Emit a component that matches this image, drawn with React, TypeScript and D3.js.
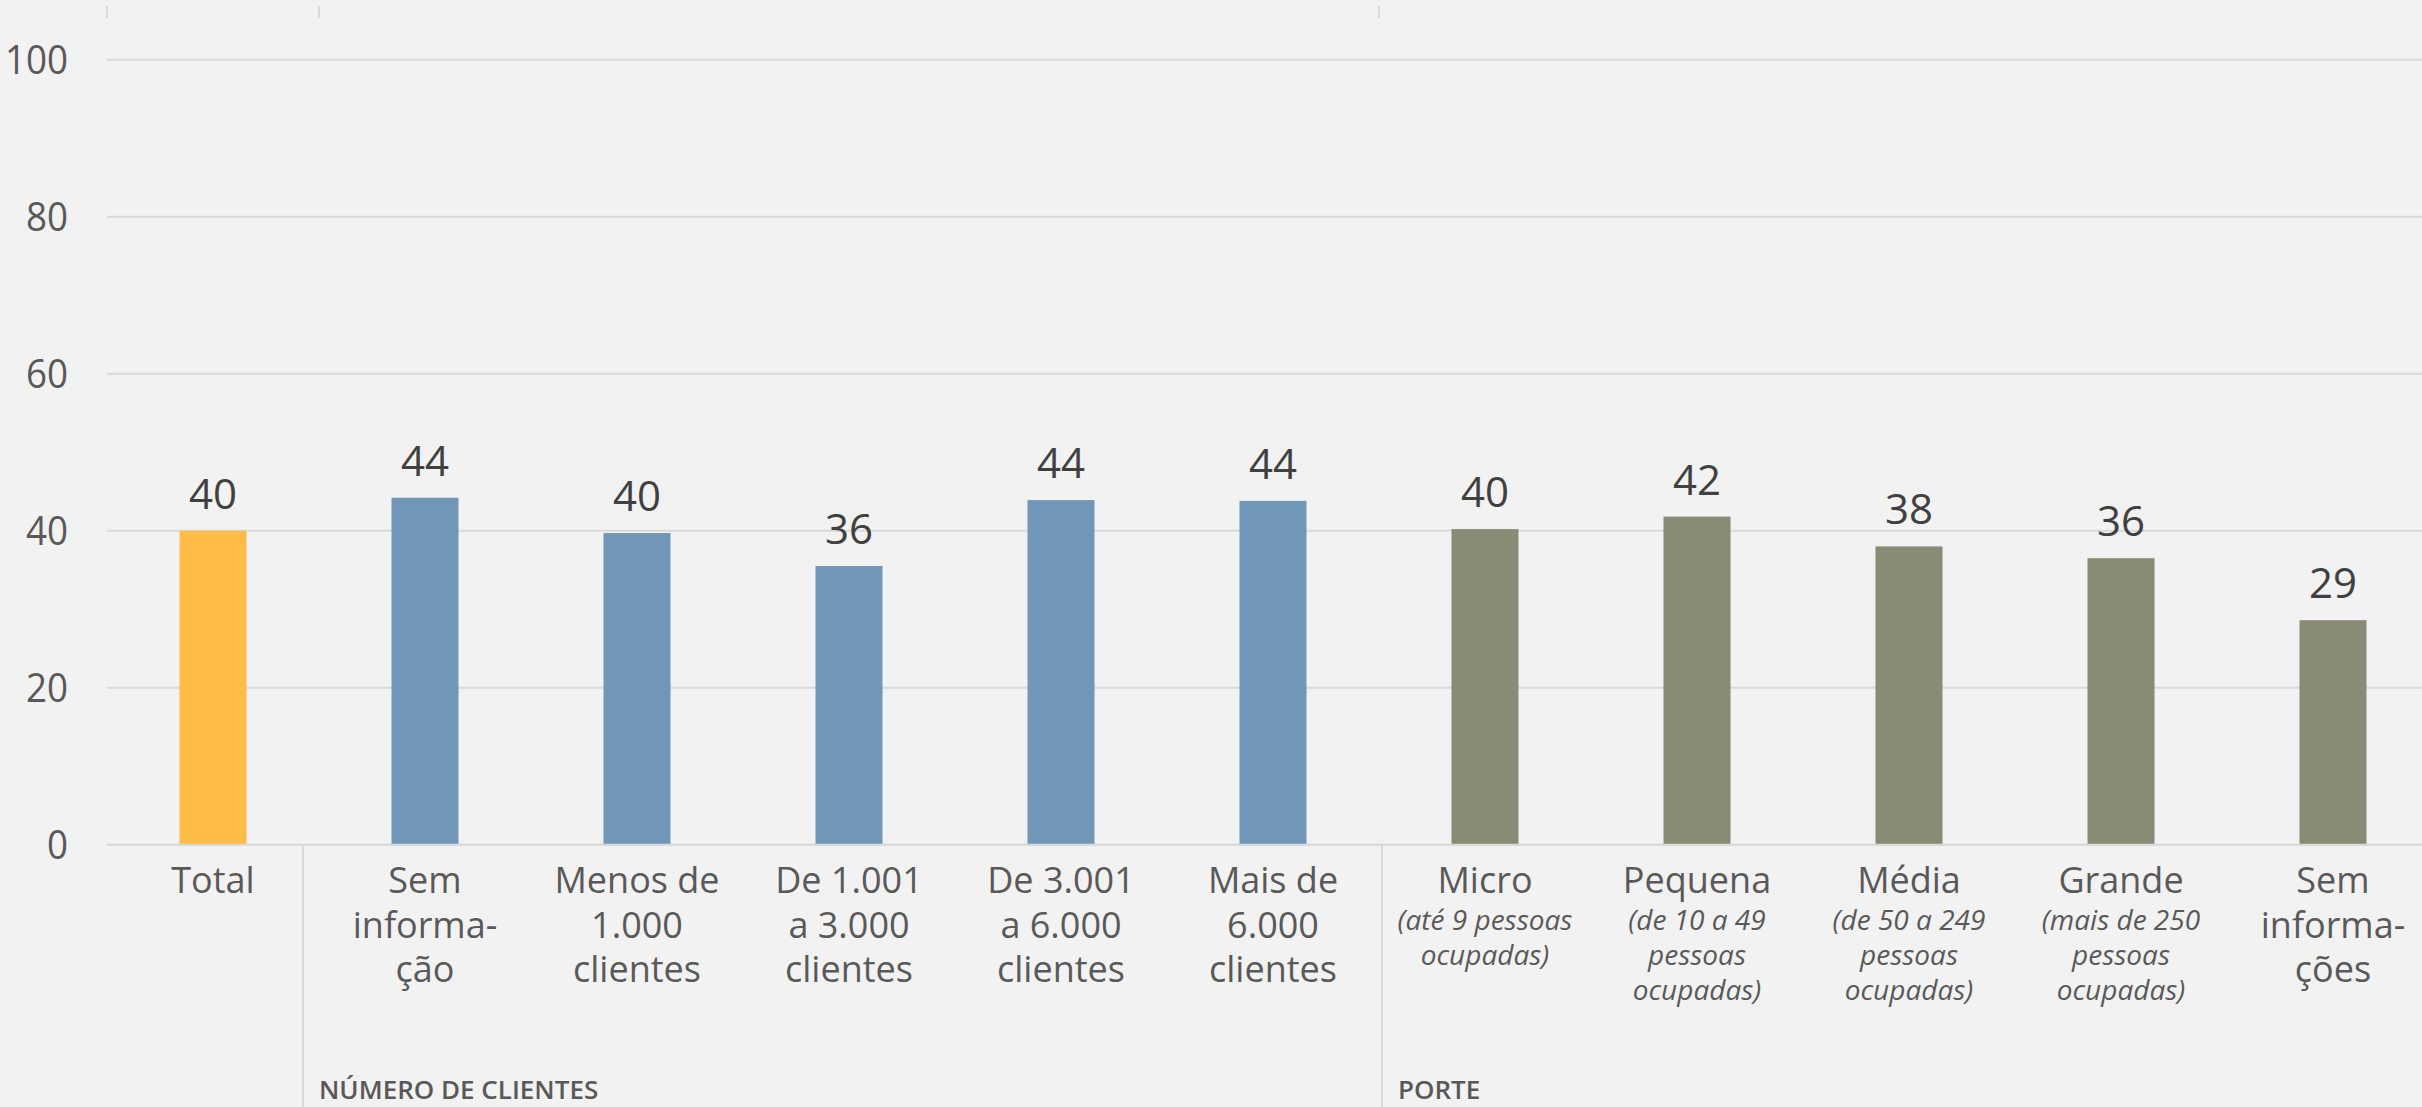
import React, { useEffect } from "react";
import * as d3 from "d3";

const categories = [
  "Total",
  "Sem informação",
  "Menos de 1.000 clientes",
  "De 1.001 a 3.000 clientes",
  "De 3.001 a 6.000 clientes",
  "Mais de 6.000 clientes",
  "Micro",
  "Pequena",
  "Média",
  "Grande",
  "Sem informações",
];
const values = [40.0, 44.2, 39.7, 35.5, 43.9, 43.8, 40.2, 41.8, 38.0, 36.5, 28.6];
const valueLabels = ["40", "44", "40", "36", "44", "44", "40", "42", "38", "36", "29"];
const groupOf = ["total", "clientes", "clientes", "clientes", "clientes", "clientes", "porte", "porte", "porte", "porte", "porte"];
const mainLines = [
  ["Total"],
  ["Sem", "informa-", "ção"],
  ["Menos de", "1.000", "clientes"],
  ["De 1.001", "a 3.000", "clientes"],
  ["De 3.001", "a 6.000", "clientes"],
  ["Mais de", "6.000", "clientes"],
  ["Micro"],
  ["Pequena"],
  ["Média"],
  ["Grande"],
  ["Sem", "informa-", "ções"],
];
const subLines = [
  [], [], [], [], [], [],
  ["(até 9 pessoas", "ocupadas)"],
  ["(de 10 a 49", "pessoas", "ocupadas)"],
  ["(de 50 a 249", "pessoas", "ocupadas)"],
  ["(mais de 250", "pessoas", "ocupadas)"],
  [],
];
const groupNames = ["NÚMERO DE CLIENTES", "PORTE"];
const groupStarts = [1, 6];
const yTicks = [0, 20, 40, 60, 80, 100];

const colors: Record<string, string> = {
  total: "#FFBC47",
  clientes: "#7097B8",
  porte: "#898B74",
};

const W = 2422;
const H = 1107;
const FONT = "'Open Sans', 'Noto Sans', sans-serif";

export default function App() {
  useEffect(() => {
    document.body.style.margin = "0";
    document.body.style.background = "#F2F2F2";
  }, []);

  const left = 107;
  const step = 212;
  const x = d3
    .scaleBand<string>()
    .domain(categories)
    .range([left, left + step * categories.length])
    .padding(0);
  const y = d3.scaleLinear().domain([0, 100]).range([844.7, 59.7]);
  const barW = x.bandwidth() * 0.316;
  const grid = "#D9D9D9";
  const sepOffsets = [-16, 3];

  return (
    <svg width={W} height={H} style={{ display: "block", position: "absolute", left: 0, top: 0 }}>
      <rect x={0} y={0} width={W} height={H} fill="#F2F2F2" />
      {/* gridlines */}
      {yTicks.map((t) => (
        <g key={t}>
          <line x1={left} x2={W} y1={y(t)} y2={y(t)} stroke={grid} strokeWidth={2} />
          <g transform={`translate(68,${y(t)}) scale(0.92,1)`}>
            <text
              x={0}
              y={0}
              dy="0.35em"
              textAnchor="end"
              fontFamily={FONT}
              fontSize={40}
              fill="#595959"
            >
              {t}
            </text>
          </g>
        </g>
      ))}
      {/* top ticks */}
      {[0, ...groupStarts].map((i) => {
        const bx = x(categories[i]) as number;
        return <line key={"tt" + i} x1={bx} x2={bx} y1={6} y2={18} stroke={grid} strokeWidth={2} />;
      })}
      {/* bars */}
      {categories.map((c, i) => {
        const cx = (x(c) as number) + x.bandwidth() / 2;
        return (
          <g key={c}>
            <rect
              x={cx - barW / 2}
              y={y(values[i])}
              width={barW}
              height={y(0) - y(values[i])}
              fill={colors[groupOf[i]]}
            />
            <text
              x={cx}
              y={y(values[i]) - 22}
              textAnchor="middle"
              fontFamily={FONT}
              fontSize={42}
              fill="#404040"
            >
              {valueLabels[i]}
            </text>
          </g>
        );
      })}
      {/* axis line */}
      <line x1={left} x2={W} y1={y(0)} y2={y(0)} stroke={grid} strokeWidth={2} />
      {/* category labels */}
      {categories.map((c, i) => {
        const cx = (x(c) as number) + x.bandwidth() / 2;
        const main = mainLines[i];
        const sub = subLines[i];
        return (
          <g key={"lab" + c}>
            {main.map((l, j) => (
              <text
                key={j}
                x={cx}
                y={893 + j * 44.5}
                textAnchor="middle"
                fontFamily={FONT}
                fontSize={36}
                fill="#595959"
              >
                {l}
              </text>
            ))}
            {sub.map((l, j) => (
              <text
                key={"s" + j}
                x={cx}
                y={893 + main.length * 37 + j * 35}
                textAnchor="middle"
                fontFamily={FONT}
                fontStyle="italic"
                fontSize={28}
                fill="#595959"
              >
                {l}
              </text>
            ))}
          </g>
        );
      })}
      {/* group separators and names */}
      {groupStarts.map((s, k) => {
        const bx = (x(categories[s]) as number) + sepOffsets[k];
        return (
          <g key={"grp" + k}>
            <line x1={bx} x2={bx} y1={y(0)} y2={H} stroke={grid} strokeWidth={2} />
            <text
              x={bx + 16}
              y={1099}
              fontFamily={FONT}
              fontWeight={600}
              fontSize={26}
              fill="#595959"
            >
              {groupNames[k]}
            </text>
          </g>
        );
      })}
    </svg>
  );
}
